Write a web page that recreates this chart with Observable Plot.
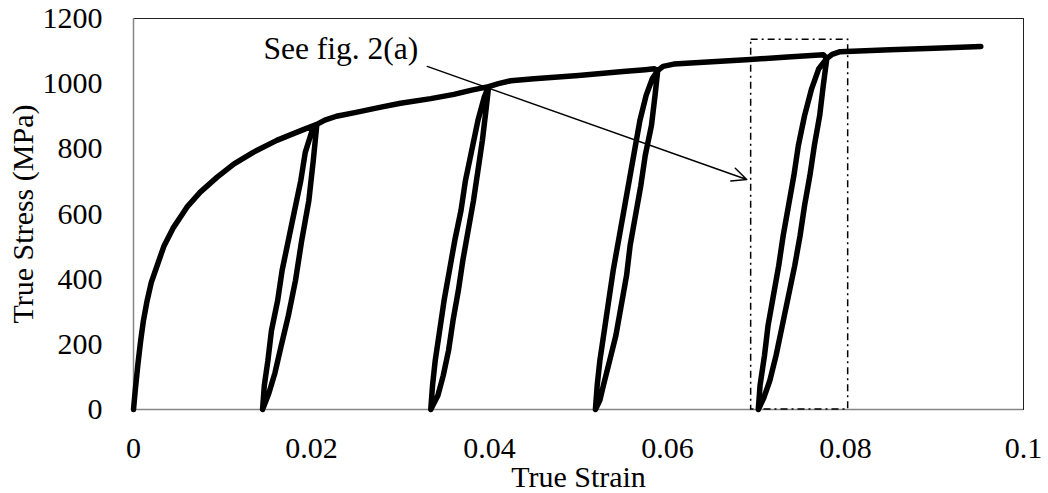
<!DOCTYPE html>
<html>
<head>
<meta charset="utf-8">
<script src="https://cdn.jsdelivr.net/npm/d3@7"></script>
<script src="https://cdn.jsdelivr.net/npm/@observablehq/plot@0.6"></script>
<style>
  html, body { margin: 0; padding: 0; background: #fff; }
  #chart { width: 1048px; height: 493px; }
</style>
</head>
<body>
<div id="chart"></div>
<script>
// ---- Data ----
const xTicks = [0, 0.02, 0.04, 0.06, 0.08, 0.1];
const xTickLabels = ["0", "0.02", "0.04", "0.06", "0.08", "0.1"];
const yTicks = [0, 200, 400, 600, 800, 1000, 1200];
const yTickLabels = ["0", "200", "400", "600", "800", "1000", "1200"];
const xTitle = "True Strain";
const yTitle = "True Stress (MPa)";

// initial loading
const load1Strain = [0, 0.0002, 0.0005, 0.0008, 0.0011, 0.0015, 0.002, 0.0027, 0.0034, 0.0045, 0.0055, 0.006, 0.0075, 0.0094, 0.0113, 0.0135, 0.0161, 0.0188, 0.0206];
const load1Stress = [0, 60, 140, 210, 270, 330, 390, 445, 500, 559, 600, 621, 667, 713, 754, 790, 826, 856, 875];
// cycle 1: unload then reload
const cycle1Strain = [0.0202, 0.0197, 0.0189, 0.0182, 0.0174, 0.0166, 0.0159, 0.0152, 0.0145, 0.0147, 0.0151, 0.0155, 0.0162, 0.0167, 0.0174, 0.0181, 0.0188, 0.0193, 0.0200, 0.0206];
const cycle1Stress = [764, 641, 519, 396, 288, 196, 113, 49, 0, 74, 150, 242, 335, 427, 519, 611, 703, 789, 850, 875];
const load2Strain = [0.0215, 0.0228, 0.025, 0.0278, 0.030, 0.0334, 0.036, 0.038, 0.0399];
const load2Stress = [888, 900, 912, 928, 940, 954, 967, 980, 991];
const cycle2Strain = [0.0396, 0.0392, 0.0387, 0.0382, 0.0376, 0.0370, 0.0365, 0.0359, 0.0354, 0.0348, 0.0342, 0.0334, 0.0336, 0.0339, 0.0344, 0.0349, 0.0355, 0.0361, 0.0368, 0.0373, 0.0380, 0.0387, 0.0394, 0.0399];
const cycle2Stress = [918, 826, 733, 641, 549, 457, 365, 273, 181, 104, 43, 0, 74, 150, 242, 335, 427, 519, 611, 703, 795, 887, 958, 991];
const load3Strain = [0.0410, 0.0424, 0.045, 0.050, 0.055, 0.0575, 0.0585, 0.0589];
const load3Stress = [1000, 1009, 1015, 1025, 1037, 1043, 1046, 1040];
const cycle3Strain = [0.0586, 0.0582, 0.0575, 0.0570, 0.0564, 0.0558, 0.0554, 0.0548, 0.0542, 0.0535, 0.0528, 0.0524, 0.0519, 0.0521, 0.0524, 0.0529, 0.0534, 0.0539, 0.0545, 0.0551, 0.0557, 0.0563, 0.0569, 0.0576, 0.0583, 0.0589];
const cycle3Stress = [964, 872, 780, 687, 595, 503, 411, 319, 227, 150, 74, 28, 0, 74, 150, 242, 335, 427, 519, 611, 703, 795, 887, 964, 1016, 1040];
const load4Strain = [0.0595, 0.0607, 0.065, 0.0693, 0.0735, 0.0775, 0.0779];
const load4Stress = [1053, 1060, 1067, 1074, 1082, 1089, 1077];
const cycle4Strain = [0.0775, 0.0771, 0.0765, 0.0760, 0.0754, 0.0749, 0.0743, 0.0736, 0.0729, 0.0722, 0.0715, 0.0708, 0.0702, 0.0704, 0.0709, 0.0713, 0.0719, 0.0725, 0.0730, 0.0736, 0.0742, 0.0747, 0.0754, 0.0762, 0.0770, 0.0779];
const cycle4Stress = [994, 902, 810, 718, 626, 534, 442, 350, 258, 166, 89, 34, 0, 74, 166, 258, 350, 442, 534, 626, 718, 810, 902, 985, 1046, 1077];
const load5Strain = [0.0785, 0.0794, 0.085, 0.090, 0.0952];
const load5Stress = [1090, 1098, 1104, 1109, 1114];

// annotation
const boxStrain = [0.0694, 0.0803];
const boxStress = [0, 1135];
const arrowStart = [0.0330, 1053];
const arrowEnd = [0.0689, 706];
const noteText = "See fig. 2(a)";
const notePos = [0.0146, 1108];

// ---- Build table ----
const segments = [
  [load1Strain, load1Stress], [cycle1Strain, cycle1Stress],
  [load2Strain, load2Stress], [cycle2Strain, cycle2Stress],
  [load3Strain, load3Stress], [cycle3Strain, cycle3Stress],
  [load4Strain, load4Stress], [cycle4Strain, cycle4Stress],
  [load5Strain, load5Stress]
];
const rows = [];
for (const [xs, ys] of segments) xs.forEach((x, i) => rows.push({strain: x, stress: ys[i]}));

const font = "'Liberation Serif', 'Times New Roman', serif";

const chart = Plot.plot({
  width: 1048,
  height: 493,
  marginLeft: 133,
  marginRight: 25,
  marginTop: 18,
  marginBottom: 84,
  style: {fontFamily: font, fontSize: "30px", background: "#fff", color: "#000"},
  x: {domain: [0, 0.1]},
  y: {domain: [0, 1200]},
  marks: [
    Plot.frame({stroke: "#222", strokeWidth: 1}),
    Plot.ruleX([0], {stroke: "#868686", strokeWidth: 1.5}),
    Plot.ruleY([0], {stroke: "#868686", strokeWidth: 1.5}),
    Plot.axisX({ticks: xTicks, tickSize: 0, tickPadding: 27, label: null, fontSize: 30,
      tickFormat: d => xTickLabels[xTicks.indexOf(d)]}),
    Plot.axisY({ticks: yTicks, tickSize: 0, tickPadding: 31, label: null, fontSize: 30,
      tickFormat: d => yTickLabels[yTicks.indexOf(d)]}),
    Plot.rect([0], {x1: () => boxStrain[0], x2: () => boxStrain[1], y1: () => boxStress[0], y2: () => boxStress[1],
      fill: "none", stroke: "#000", strokeWidth: 1.5, strokeDasharray: "7,4,2,4"}),
    Plot.line(rows, {x: "strain", y: "stress", stroke: "#000", strokeWidth: 5.5,
      strokeLinejoin: "round", strokeLinecap: "round"}),
    Plot.arrow([0], {x1: () => arrowStart[0], y1: () => arrowStart[1], x2: () => arrowEnd[0], y2: () => arrowEnd[1],
      stroke: "#000", strokeWidth: 1.5, headLength: 16, headAngle: 50}),
    Plot.text([noteText], {x: () => notePos[0], y: () => notePos[1], text: d => d, textAnchor: "start",
      lineAnchor: "middle", fontSize: 31.5, fill: "#000"}),
    Plot.text([xTitle], {frameAnchor: "bottom", text: d => d, dy: 68, textAnchor: "middle", lineAnchor: "middle", fontSize: 30, fill: "#000"}),
    Plot.text([yTitle], {frameAnchor: "left", text: d => d, rotate: -90, dx: -122, textAnchor: "middle", lineAnchor: "top", fontSize: 30, fill: "#000"})
  ]
});
document.getElementById("chart").appendChild(chart);
</script>
</body>
</html>
